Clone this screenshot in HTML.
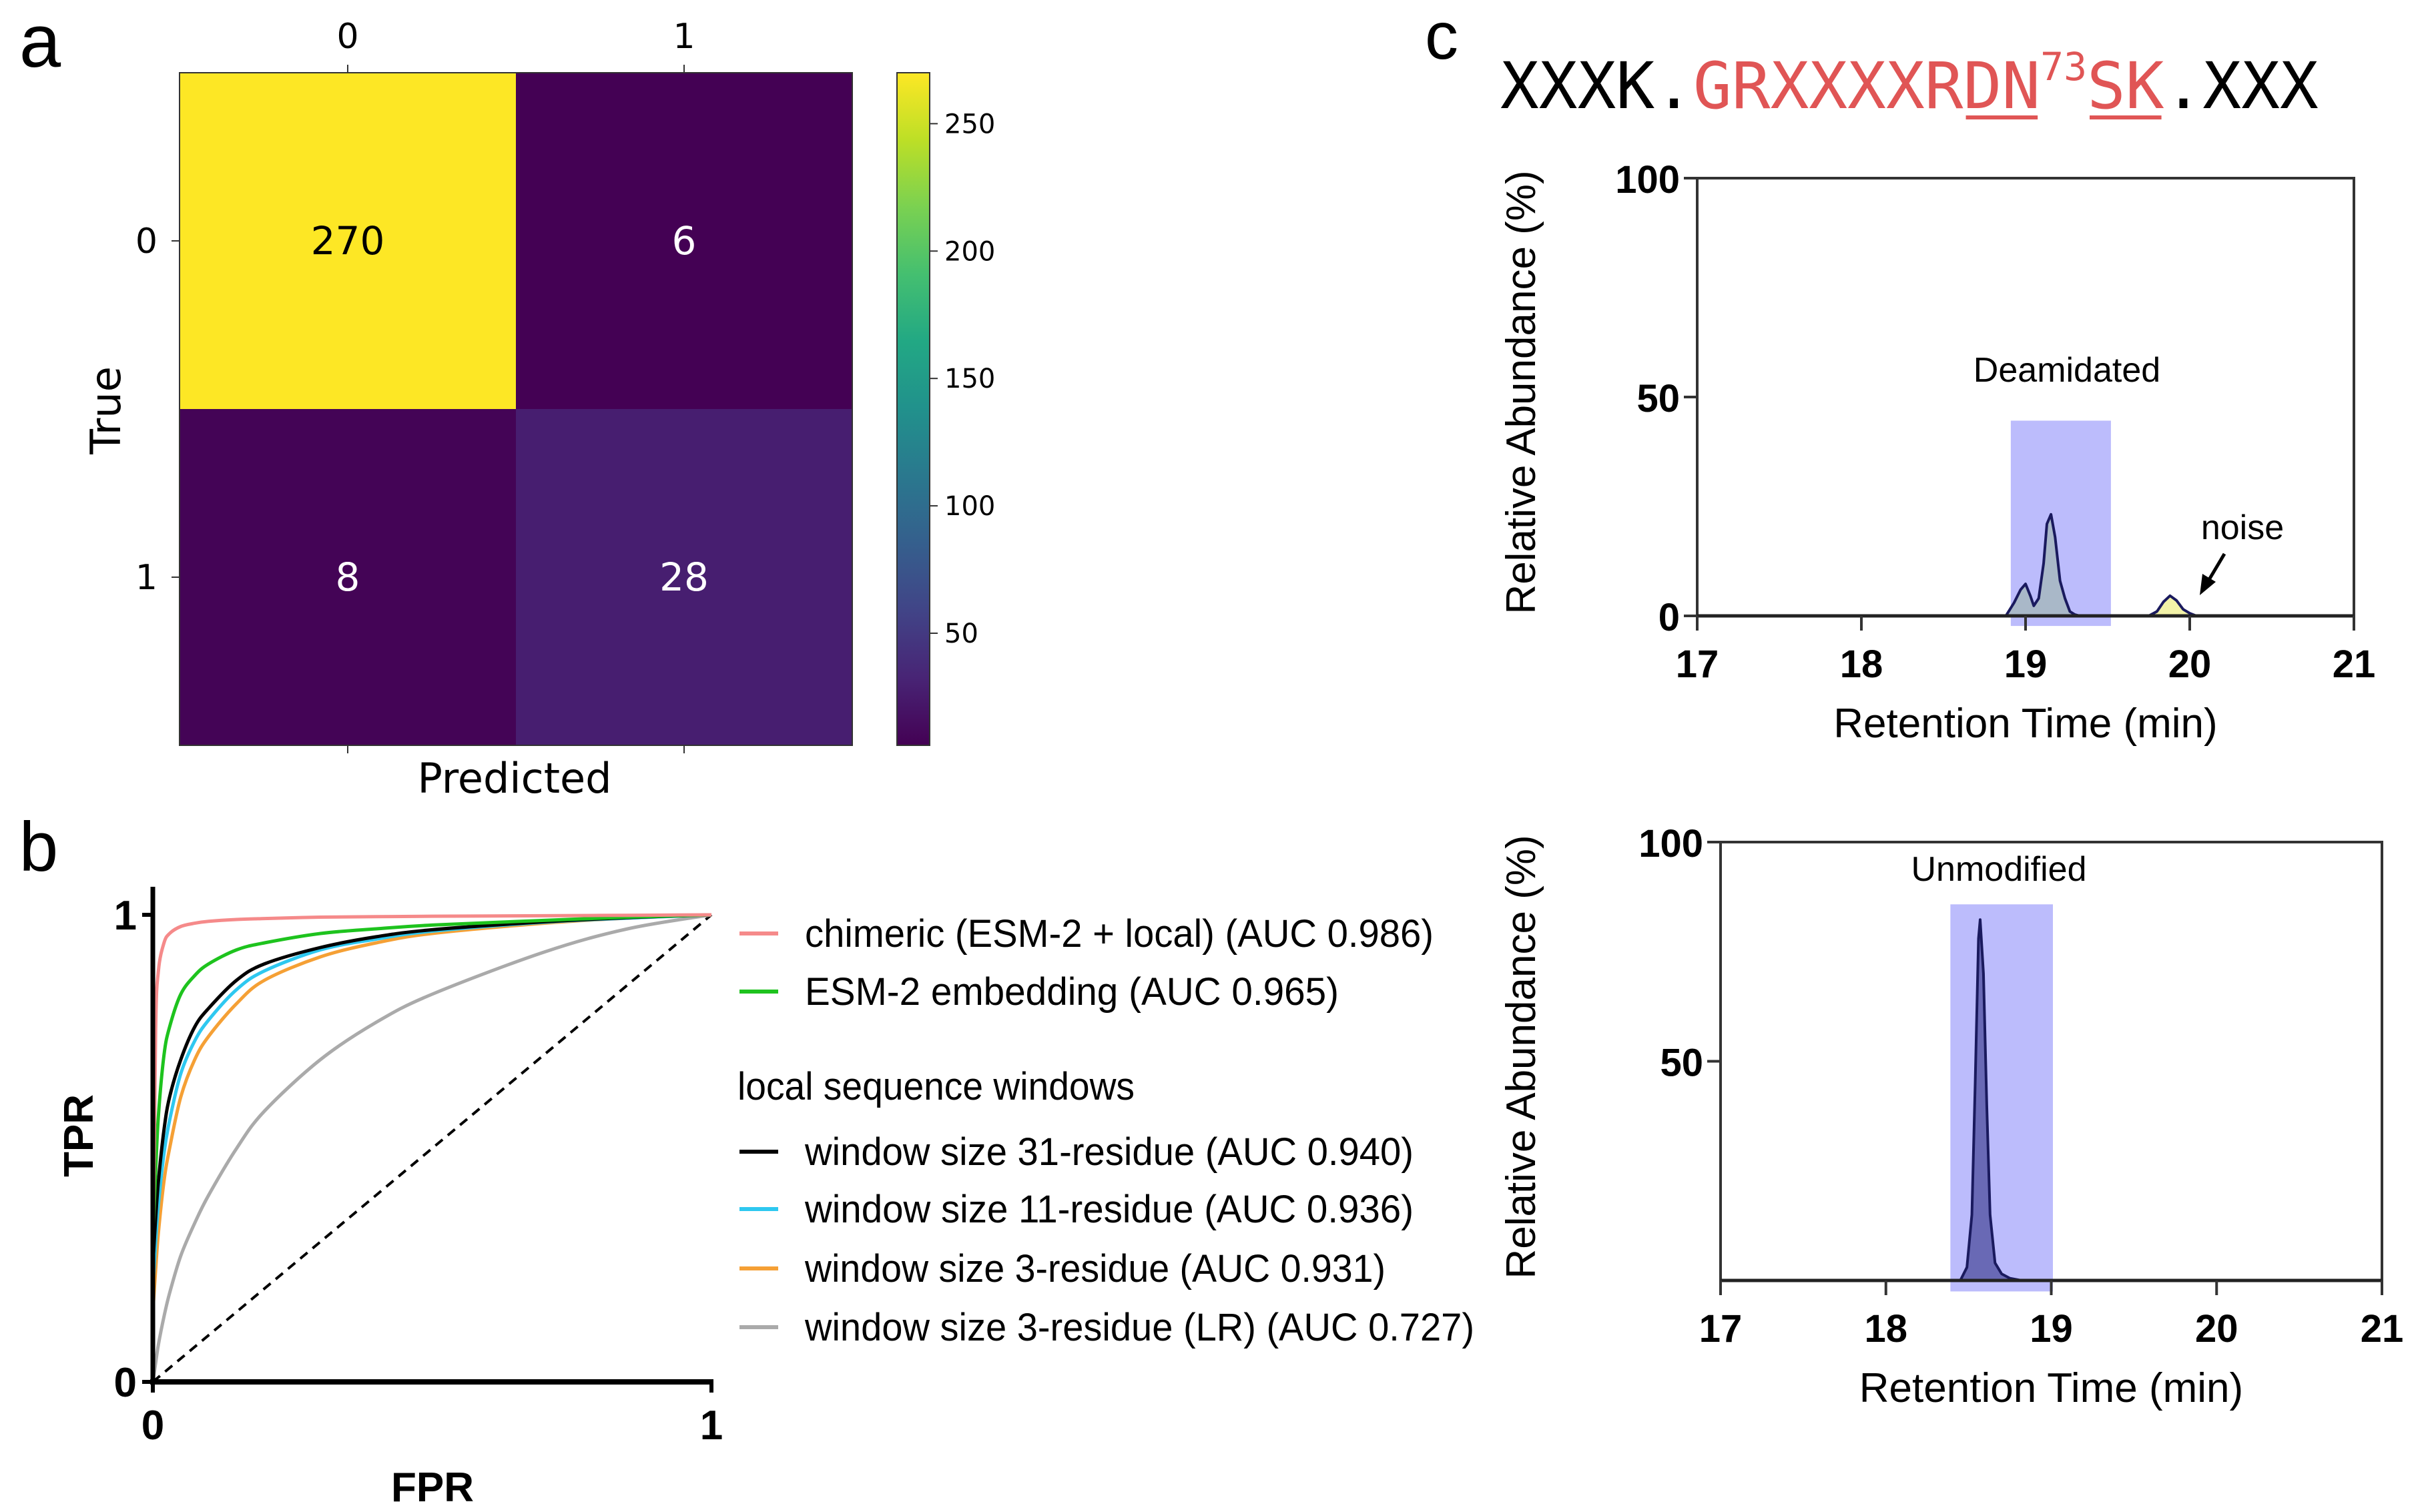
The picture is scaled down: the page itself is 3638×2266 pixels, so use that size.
<!DOCTYPE html>
<html><head><meta charset="utf-8"><style>
html,body{margin:0;padding:0;background:#fff;}
svg{display:block;font-family:"Liberation Sans",sans-serif;}
</style></head><body>
<svg id="fig" width="3638" height="2266" viewBox="0 0 3638 2266" xmlns="http://www.w3.org/2000/svg">
<defs>
<linearGradient id="viridis" x1="0" y1="1" x2="0" y2="0">
<stop offset="0" stop-color="#440154"/><stop offset="0.1" stop-color="#482475"/><stop offset="0.2" stop-color="#414487"/><stop offset="0.3" stop-color="#355f8d"/><stop offset="0.4" stop-color="#2a788e"/><stop offset="0.5" stop-color="#21918c"/><stop offset="0.6" stop-color="#22a884"/><stop offset="0.7" stop-color="#44bf70"/><stop offset="0.8" stop-color="#7ad151"/><stop offset="0.9" stop-color="#bddf26"/><stop offset="1" stop-color="#fde725"/>
</linearGradient>
</defs>
<g id="panelA"></g>
<g id="panelB"></g>
<g id="panelC"></g>
</svg>
<script>
// ---------- Panel A data ----------
const cmLabels = ["0", "1"];
const cmValues = [[270, 6], [8, 28]];
const cbTicks = [50, 100, 150, 200, 250];
// ---------- Panel B data ----------
const rocFpr = [0, 0.005, 0.01, 0.02, 0.03, 0.05, 0.075, 0.1, 0.15, 0.2, 0.3, 0.4, 0.5, 0.7, 0.85, 1];
const rocChimeric = [0.2, 0.75, 0.88, 0.94, 0.96, 0.975, 0.982, 0.986, 0.99, 0.992, 0.995, 0.996, 0.997, 0.998, 0.999, 1];
const rocEsm = [0.3, 0.45, 0.57, 0.7, 0.76, 0.83, 0.87, 0.895, 0.925, 0.94, 0.96, 0.97, 0.978, 0.988, 0.995, 1];
const rocW31 = [0.25, 0.35, 0.43, 0.54, 0.61, 0.69, 0.76, 0.8, 0.86, 0.895, 0.93, 0.953, 0.968, 0.985, 0.994, 1];
const rocW11 = [0.2, 0.3, 0.38, 0.49, 0.56, 0.66, 0.73, 0.775, 0.84, 0.88, 0.925, 0.948, 0.965, 0.984, 0.993, 1];
const rocW3 = [0.15, 0.24, 0.32, 0.43, 0.5, 0.61, 0.69, 0.74, 0.81, 0.86, 0.91, 0.94, 0.96, 0.982, 0.993, 1];
const rocLR = [0, 0.04, 0.08, 0.14, 0.19, 0.27, 0.34, 0.4, 0.5, 0.58, 0.69, 0.77, 0.83, 0.92, 0.97, 1];
const legendLabels = ["chimeric (ESM-2 + local)  (AUC 0.986)", "ESM-2 embedding  (AUC 0.965)", "window size 31-residue  (AUC 0.940)", "window size 11-residue  (AUC 0.936)", "window size 3-residue  (AUC 0.931)", "window size 3-residue (LR)  (AUC 0.727)"];
// ---------- Panel C data ----------
const rtTicks = [17, 18, 19, 20, 21];
const topYTicks = [0, 50, 100];
const botYTicks = [50, 100];
const deamTimes = [18.88, 18.93, 18.97, 19.0, 19.03, 19.05, 19.08, 19.11, 19.13, 19.155, 19.18, 19.21, 19.24, 19.27, 19.3, 19.33];
const deamVals = [0, 3, 6, 7.3, 4.5, 2.3, 4, 12, 21, 23.2, 18, 8, 4, 1, 0.3, 0];
const noiseTimes = [19.75, 19.8, 19.84, 19.88, 19.92, 19.96, 20.0, 20.04];
const noiseVals = [0, 1, 3.2, 4.6, 3.5, 1.5, 0.6, 0];
const unmodTimes = [18.45, 18.49, 18.52, 18.54, 18.56, 18.57, 18.59, 18.61, 18.63, 18.66, 18.7, 18.75, 18.82];
const unmodVals = [0, 3, 15, 45, 78, 82.3, 70, 40, 15, 4, 1.5, 0.5, 0];
const deamWindow = [18.91, 19.52, -2.3, 44.6];
const unmodWindow = [18.39, 19.01, -2.5, 85.8];

const NS = "http://www.w3.org/2000/svg";
function mk(parent, tag, attrs, text) {
  const e = document.createElementNS(NS, tag);
  for (const k in attrs) e.setAttribute(k, attrs[k]);
  if (text !== undefined) e.textContent = text;
  parent.appendChild(e);
  return e;
}
function viridis(t) {
  const s = ["#440154","#482475","#414487","#355f8d","#2a788e","#21918c","#22a884","#44bf70","#7ad151","#bddf26","#fde725"];
  t = Math.max(0, Math.min(1, t)); const f = t * 10, i = Math.min(9, Math.floor(f)), r = f - i;
  const a = s[i], b = s[i + 1];
  const c = k => Math.round(parseInt(a.substr(k, 2), 16) * (1 - r) + parseInt(b.substr(k, 2), 16) * r);
  return "rgb(" + c(1) + "," + c(3) + "," + c(5) + ")";
}

// ================= PANEL A =================
(function () {
  const g = document.getElementById("panelA");
  const L = 269, R = 1277, T = 109, B = 1117;
  const vmin = 6, vmax = 270;
  const cw = (R - L) / cmLabels.length, ch = (B - T) / cmLabels.length;
  let t = mk(g, "text", {x: 60, y: 100, "font-size": 112, "text-anchor": "middle"}, "a");
   
  cmValues.forEach((row, i) => row.forEach((v, j) => {
    const r = mk(g, "rect", {x: L + j * cw, y: T + i * ch, width: cw + 0.5, height: ch + 0.5, fill: viridis((v - vmin) / (vmax - vmin))});
    
    
    const tx = mk(g, "text", {x: L + (j + 0.5) * cw, y: T + (i + 0.5) * ch + 20, "font-size": 58, "text-anchor": "middle", fill: v > 150 ? "#000" : "#fff", "font-family": "DejaVu Sans, sans-serif"}, String(v));
    
    
  }));
  mk(g, "rect", {x: L, y: T, width: R - L, height: B - T, fill: "none", stroke: "#333", "stroke-width": 2});
  cmLabels.forEach((lab, j) => {
    const cx = L + (j + 0.5) * cw;
    mk(g, "line", {x1: cx, y1: T, x2: cx, y2: T - 12, stroke: "#333", "stroke-width": 2});
    mk(g, "line", {x1: cx, y1: B, x2: cx, y2: B + 12, stroke: "#333", "stroke-width": 2});
    let a = mk(g, "text", {x: cx, y: 72, "font-size": 52, "text-anchor": "middle", "font-family": "DejaVu Sans, sans-serif"}, lab);
     
    const cy = T + (j + 0.5) * ch;
    mk(g, "line", {x1: L, y1: cy, x2: L - 12, y2: cy, stroke: "#333", "stroke-width": 2});
    let b = mk(g, "text", {x: 236, y: cy + 18, "font-size": 52, "text-anchor": "end", "font-family": "DejaVu Sans, sans-serif"}, lab);
     
  });
  t = mk(g, "text", {x: 0, y: 0, "font-size": 62, "text-anchor": "middle", "font-family": "DejaVu Sans, sans-serif", transform: "translate(180,615) rotate(-90)"}, "True");
   
  t = mk(g, "text", {x: 771, y: 1188, "font-size": 62, "text-anchor": "middle", "font-family": "DejaVu Sans, sans-serif"}, "Predicted");
   
  const CL = 1344, CR = 1393;
  const cb = mk(g, "rect", {x: CL, y: T, width: CR - CL, height: B - T, fill: "url(#viridis)", stroke: "#333", "stroke-width": 2});
   
  cbTicks.forEach(v => {
    const y = B - (v - vmin) / (vmax - vmin) * (B - T);
    mk(g, "line", {x1: CR, y1: y, x2: CR + 12, y2: y, stroke: "#333", "stroke-width": 2});
    const tl = mk(g, "text", {x: CR + 22, y: y + 14, "font-size": 40, "font-family": "DejaVu Sans, sans-serif"}, String(v));
     
  });
})();

// ================= PANEL B =================
(function () {
  const g = document.getElementById("panelB");
  const X0 = 229, X1 = 1066, Y0 = 2071, Y1 = 1371;
  const sx = v => X0 + v * (X1 - X0), sy = v => Y0 - v * (Y0 - Y1);
  let t = mk(g, "text", {x: 58, y: 1305, "font-size": 105, "text-anchor": "middle"}, "b");
   
  const diag = mk(g, "line", {x1: sx(0), y1: sy(0), x2: sx(1), y2: sy(1), stroke: "#000", "stroke-width": 4, "stroke-dasharray": "14,10"});
   
  function smooth(pts) {
    let d = "M" + pts[0][0] + "," + pts[0][1];
    for (let i = 0; i < pts.length - 1; i++) {
      const p0 = pts[Math.max(0, i - 1)], p1 = pts[i], p2 = pts[i + 1], p3 = pts[Math.min(pts.length - 1, i + 2)];
      const c1x = p1[0] + (p2[0] - p0[0]) / 6, c1y = p1[1] + (p2[1] - p0[1]) / 6;
      const c2x = p2[0] - (p3[0] - p1[0]) / 6, c2y = p2[1] - (p3[1] - p1[1]) / 6;
      d += " C" + c1x + "," + c1y + " " + c2x + "," + c2y + " " + p2[0] + "," + p2[1];
    }
    return d;
  }
  const series = [
    [rocLR, "#aaaaaa", "roc-lr-3"], [rocW3, "#f5a035", "roc-window-3"], [rocW11, "#2ec8f0", "roc-window-11"],
    [rocW31, "#000000", "roc-window-31"], [rocEsm, "#1ec31e", "roc-esm2"], [rocChimeric, "#f58a8a", "roc-chimeric"]
  ];
  series.forEach(s => {
    const pts = rocFpr.map((f, i) => [sx(f), sy(s[0][i])]);
    const p = mk(g, "path", {d: smooth(pts), fill: "none", stroke: s[1], "stroke-width": 5});
    
    
  });
  mk(g, "line", {x1: X0, y1: 1329, x2: X0, y2: Y0 + 4, stroke: "#000", "stroke-width": 7});
  mk(g, "line", {x1: X0 - 4, y1: Y0, x2: X1 + 3, y2: Y0, stroke: "#000", "stroke-width": 8});
  mk(g, "line", {x1: X0, y1: Y1, x2: X0 - 16, y2: Y1, stroke: "#000", "stroke-width": 6});
  mk(g, "line", {x1: X0, y1: Y0, x2: X0 - 16, y2: Y0, stroke: "#000", "stroke-width": 6});
  mk(g, "line", {x1: X0, y1: Y0, x2: X0, y2: Y0 + 16, stroke: "#000", "stroke-width": 6});
  mk(g, "line", {x1: X1, y1: Y0, x2: X1, y2: Y0 + 16, stroke: "#000", "stroke-width": 6});
  [[0, "0"], [1, "1"]].forEach(([v, lab]) => {
    let a = mk(g, "text", {x: X0 - 24, y: sy(v) + 22, "font-size": 62, "font-weight": "bold", "text-anchor": "end"}, lab);
     
    let b = mk(g, "text", {x: sx(v), y: 2157, "font-size": 62, "font-weight": "bold", "text-anchor": "middle"}, lab);
     
  });
  t = mk(g, "text", {x: 0, y: 0, "font-size": 62, "font-weight": "bold", "text-anchor": "middle", transform: "translate(139,1702) rotate(-90)"}, "TPR");
   
  t = mk(g, "text", {x: 648, y: 2250, "font-size": 62, "font-weight": "bold", "text-anchor": "middle"}, "FPR");
   
  const rowsY = [1399, 1486, 1726, 1812, 1901, 1989];
  const widths = [942, 800, 912, 912, 870, 1003];
  const cols = ["#f58a8a", "#1ec31e", "#000000", "#2ec8f0", "#f5a035", "#aaaaaa"];
  legendLabels.forEach((lab, i) => {
    const le = mk(g, "g", {});
    
    
    mk(le, "line", {x1: 1108, y1: rowsY[i], x2: 1166, y2: rowsY[i], stroke: cols[i], "stroke-width": 6});
    mk(le, "text", {x: 1206, y: rowsY[i] + 20, "font-size": 58, textLength: widths[i], lengthAdjust: "spacingAndGlyphs"}, lab);
  });
  t = mk(g, "text", {x: 1105, y: 1648, "font-size": 58, textLength: 595, lengthAdjust: "spacingAndGlyphs"}, "local sequence windows");
   
})();

// ================= PANEL C =================
(function () {
  const g = document.getElementById("panelC");
  let t = mk(g, "text", {x: 2160, y: 88, "font-size": 100, "text-anchor": "middle"}, "c");
   
  const seq = mk(g, "text", {x: 2248, y: 162, "font-size": 96, "font-family": "DejaVu Sans Mono, Liberation Mono, monospace"});
   
  mk(seq, "tspan", {}, "XXXK.");
  mk(seq, "tspan", {fill: "#e05555"}, "GRXXXXR");
  const dn = mk(seq, "tspan", {fill: "#e05555"}, "DN");
  mk(seq, "tspan", {fill: "#e05555", "font-size": 58, dy: -42}, "73");
  const sk = mk(seq, "tspan", {fill: "#e05555", dy: 42}, "SK");
  mk(seq, "tspan", {}, ".XXX");
  // underlines positioned from glyph extents
  [dn, sk].forEach(sp => {
    let x1, x2;
    try {
      const n = sp.getNumberOfChars();
      const a = sp.getExtentOfChar(0), b = sp.getExtentOfChar(n - 1);
      x1 = a.x; x2 = b.x + b.width;
    } catch (e) { x1 = 0; x2 = 0; }
    const u = mk(g, "line", {x1: x1 + 4, y1: 176, x2: x2 - 4, y2: 176, stroke: "#e05555", "stroke-width": 6});
    
    
  });

  function chart(opt) {
    const {L, R, T, B, yTicks, win, traces, name, label, labelPos, ytitleY} = opt;
    const sx = v => L + (v - 17) / 4 * (R - L), sy = v => B - v / 100 * (B - T);
    const cg = mk(g, "g", {});  
    const w = mk(cg, "rect", {x: sx(win[0]), y: sy(win[3]), width: sx(win[1]) - sx(win[0]), height: sy(win[2]) - sy(win[3]), fill: "#bcbcfc"});
     
    traces.forEach(tr => {
      let d = "M" + sx(tr.t[0]) + "," + sy(0);
      tr.t.forEach((x, i) => d += " L" + sx(x) + "," + sy(tr.v[i]));
      d += " L" + sx(tr.t[tr.t.length - 1]) + "," + sy(0) + " Z";
      const p = mk(cg, "path", {d: d, fill: tr.fill, "fill-opacity": tr.op, stroke: "#1a1a5e", "stroke-width": 4, "stroke-linejoin": "round"});
      
      
    });
    mk(cg, "rect", {x: L, y: T, width: R - L, height: B - T, fill: "none", stroke: "#333", "stroke-width": 4});
    mk(cg, "line", {x1: L, y1: B, x2: R, y2: B, stroke: "#222", "stroke-width": 5});
    rtTicks.forEach(v => {
      mk(cg, "line", {x1: sx(v), y1: B, x2: sx(v), y2: B + 22, stroke: "#333", "stroke-width": 4});
      const a = mk(cg, "text", {x: sx(v), y: B + 92, "font-size": 58, "font-weight": "bold", "text-anchor": "middle"}, String(v));
       
    });
    yTicks.forEach(v => {
      mk(cg, "line", {x1: L, y1: sy(v), x2: L - 20, y2: sy(v), stroke: "#333", "stroke-width": 4});
      const a = mk(cg, "text", {x: L - 26, y: sy(v) + 22, "font-size": 58, "font-weight": "bold", "text-anchor": "end"}, String(v));
       
    });
    let xt = mk(cg, "text", {x: (L + R) / 2, y: B + 182, "font-size": 62, "text-anchor": "middle"}, "Retention Time (min)");
     
    let yt = mk(cg, "text", {x: 0, y: 0, "font-size": 62, "text-anchor": "middle", transform: "translate(2300," + ytitleY + ") rotate(-90)"}, "Relative Abundance (%)");
     
    let lb = mk(cg, "text", {x: labelPos[0], y: labelPos[1], "font-size": 52, "text-anchor": "middle"}, label);
     
    return {sx, sy, cg};
  }
  const top = chart({L: 2543, R: 3527, T: 267, B: 923, yTicks: topYTicks, win: deamWindow, name: "deamidated-chromatogram",
    label: "Deamidated", labelPos: [3097, 572], ytitleY: 588,
    traces: [{t: deamTimes, v: deamVals, fill: "#a9b8c8", op: 1, name: "deamidated-peak"}, {t: noiseTimes, v: noiseVals, fill: "#f2f2a8", op: 1, name: "noise-peak"}]});
  let nl = mk(top.cg, "text", {x: 3360, y: 808, "font-size": 52, "text-anchor": "middle"}, "noise");
   
  mk(top.cg, "line", {x1: 3333, y1: 830, x2: 3308, y2: 872, stroke: "#000", "stroke-width": 5});
  mk(top.cg, "path", {d: "M3296,892 L3300,860 L3320,872 Z", fill: "#000"});
  chart({L: 2578, R: 3569, T: 1262, B: 1919, yTicks: botYTicks, win: unmodWindow, name: "unmodified-chromatogram",
    label: "Unmodified", labelPos: [2995, 1320], ytitleY: 1584,
    traces: [{t: unmodTimes, v: unmodVals, fill: "#5b5ba8", op: 0.85, name: "unmodified-peak"}]});
})();
</script>
</body></html>
